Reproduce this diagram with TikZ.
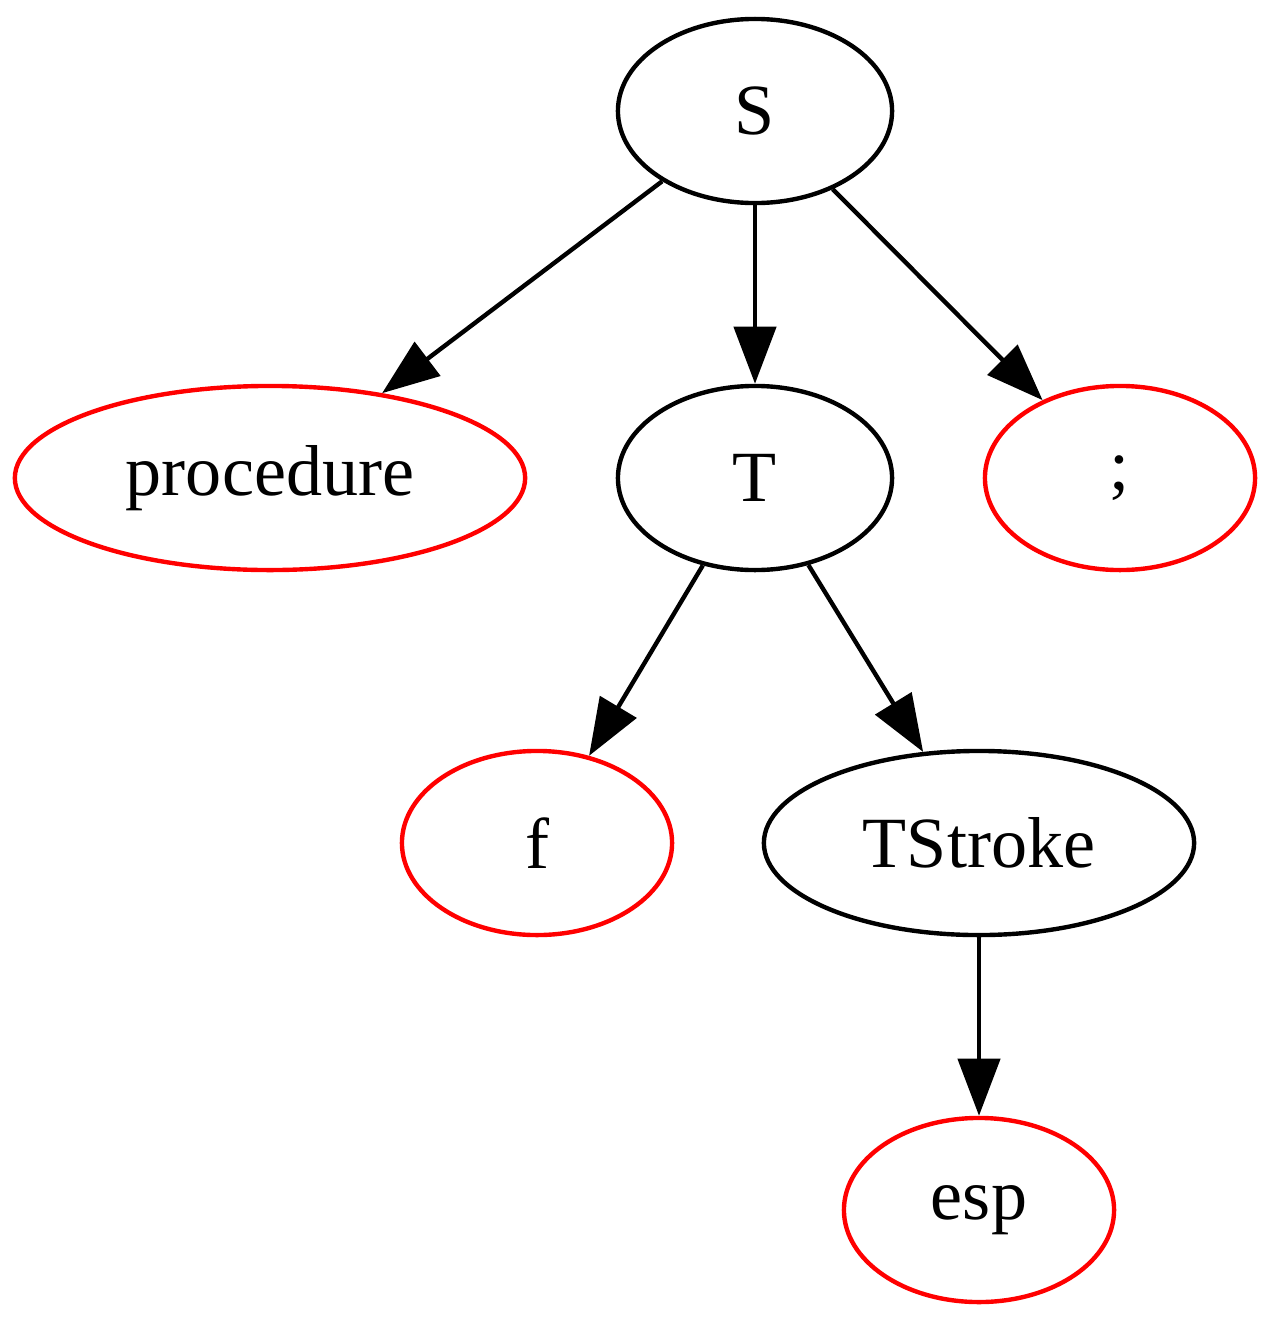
\documentclass[tikz,border=0pt]{standalone}
\usepackage{fontspec}
\setmainfont{Liberation Serif}
\usepackage{tikz}
\usetikzlibrary{arrows.meta, shapes.geometric, positioning}

\begin{document}
\begin{tikzpicture}[x=0.01cm,y=-0.01cm,
 line width=1.25pt,
 every node/.style={ellipse,draw,inner sep=0pt,minimum height=1.84cm,
   font=\fontsize{20.5}{24}\selectfont},
 inner node/.style={draw=black},
 leaf node/.style={draw=red},
 >={Triangle[length=0.57cm,width=0.42cm]}]

  \useasboundingbox (0,0) rectangle (1280,1321);

  \node[inner node,minimum width=2.74cm] (S) at (755,111) {S};
  \node[leaf node,minimum width=5.10cm] (proc) at (270,478) {procedure};
  \node[inner node,minimum width=2.74cm] (T) at (755,478) {T};
  \node[leaf node,minimum width=2.70cm] (semi) at (1120,478) {;};
  \node[leaf node,minimum width=2.70cm] (f) at (537,843) {f};
  \node[inner node,minimum width=4.30cm] (TStroke) at (979,843) {TStroke};
  \node[leaf node,minimum width=2.70cm] (esp) at (979,1210) {esp};

  \foreach \s/\t in {S/proc, S/T, S/semi, T/f, T/TStroke, TStroke/esp} {
   \path[draw,->] (\s) -- (\t);}

\end{tikzpicture}
\end{document}
